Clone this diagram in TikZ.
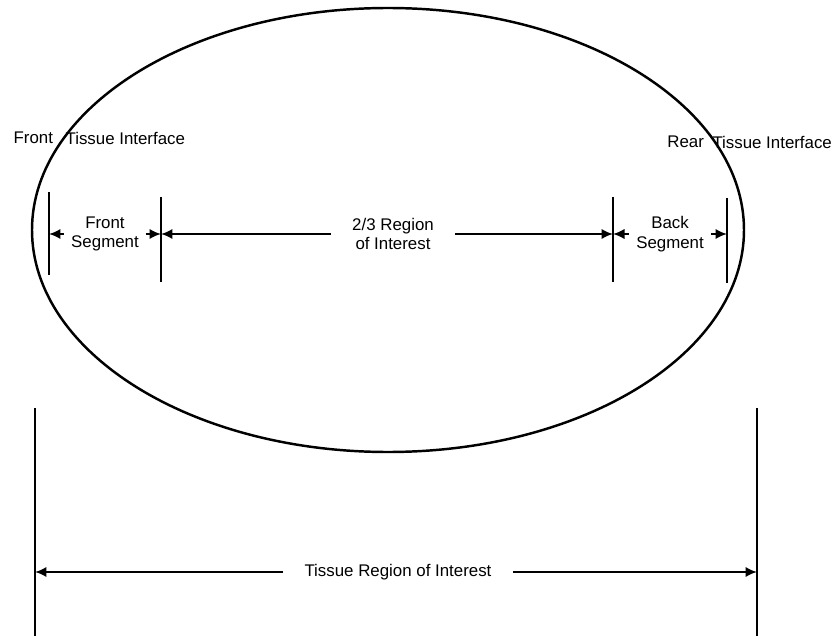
\documentclass[tikz,border=0pt]{standalone}
\usepackage{fontspec}
\setmainfont{Liberation Sans}
\usepackage{tikz}
\usetikzlibrary{arrows.meta,positioning}
\tikzset{
  >={Latex[length=2.3mm,width=2.1mm]},
  lbl/.style={font=\fontsize{9.6}{11}\selectfont,align=center,inner sep=3pt},
  outline/.style={line width=1.4pt},
  bar/.style={line width=1.4pt},
  dim/.style={->,line width=1.3pt}
}
\begin{document}
\begin{tikzpicture}[x=0.02cm,y=-0.02cm]
  \useasboundingbox (0,0) rectangle (836,642);

  % tissue outline
  \draw[outline] (388,230) ellipse [x radius=356,y radius=222];

  % interface bars
  \coordinate (f1t) at (49,192);  \coordinate (f1b) at (49,275);
  \coordinate (f2t) at (161,197); \coordinate (f2b) at (161,282);
  \coordinate (r2t) at (613,197); \coordinate (r2b) at (613,282);
  \coordinate (r1t) at (727,198); \coordinate (r1b) at (727,283);
  \draw[bar] (f1t) -- (f1b);
  \draw[bar] (f2t) -- (f2b);
  \draw[bar] (r2t) -- (r2b);
  \draw[bar] (r1t) -- (r1b);
  \coordinate (f1) at (49,234);  \coordinate (f2) at (161,234);
  \coordinate (r2) at (613,234); \coordinate (r1) at (727,234);

  % labels
  \node[lbl,anchor=west] (front) at (8,138) {Front};
  \node[lbl,anchor=west] (ftif) at (60,138) {Tissue Interface};
  \node[lbl,anchor=east,inner xsep=1pt] (rtif) at (834,142) {Tissue Interface};
  \node[lbl,anchor=east,inner xsep=1pt] (rear) at (706,142) {Rear};

  \node[lbl,inner sep=4pt] (fseg) at (105,234) {Front\\Segment};
  \node[lbl,inner sep=12pt] (roi) at (393,234) {2/3 Region\\of Interest};
  \node[lbl,inner sep=4pt] (bseg) at (670,234) {Back\\Segment};

  \draw[dim] (fseg.west) -- (f1);
  \draw[dim] (fseg.east) -- (f2);
  \draw[dim] (roi.west) -- (f2);
  \draw[dim] (roi.east) -- (r2);
  \draw[dim] (bseg.west) -- (r2);
  \draw[dim] (bseg.east) -- (r1);

  % overall region
  \coordinate (lt) at (35,408);  \coordinate (lb) at (35,636);
  \coordinate (rt) at (757,408); \coordinate (rb) at (757,636);
  \draw[bar] (lt) -- (lb);
  \draw[bar] (rt) -- (rb);
  \coordinate (l) at (35,572); \coordinate (r) at (757,572);
  \node[lbl,inner sep=12pt] (tri) at (398,572) {Tissue Region of Interest};
  \draw[dim] (tri.west) -- (l);
  \draw[dim] (tri.east) -- (r);
\end{tikzpicture}
\end{document}
